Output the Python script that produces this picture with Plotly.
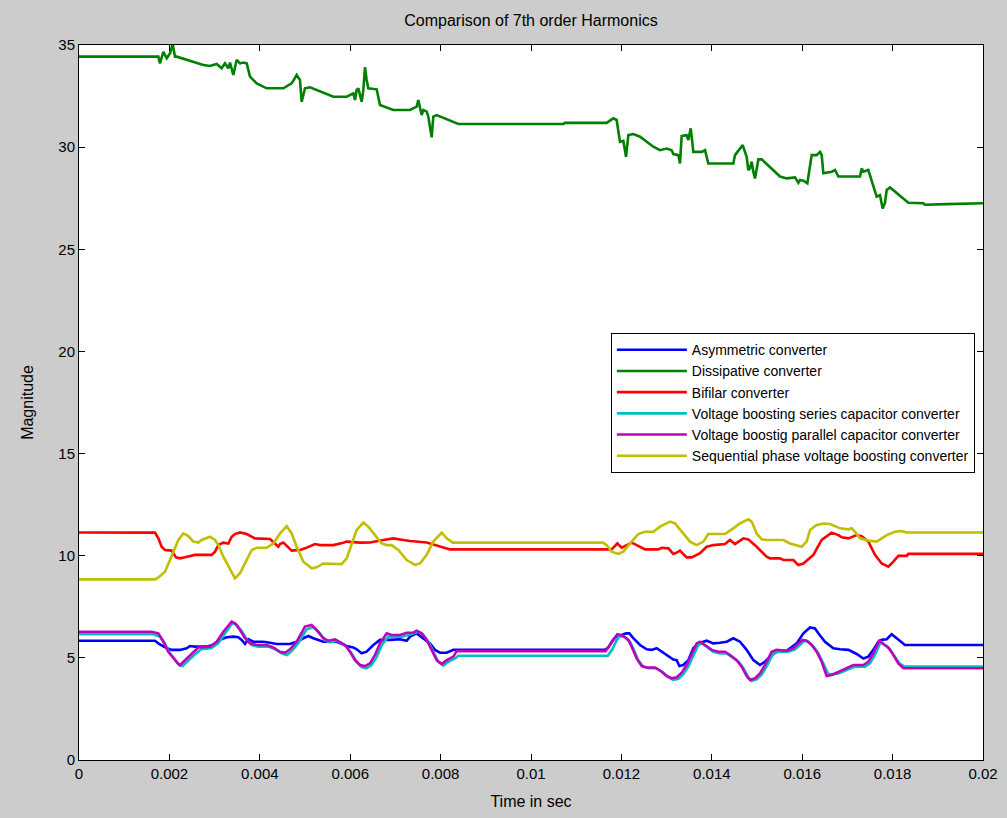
import plotly.graph_objects as go
import numpy as np

# ---------------- data (time in ms, magnitude) ----------------
asym_t = [0,1.681,1.755,1.903,2.05,2.235,2.382,2.456,2.566,2.825,2.972,3.119,3.267,3.414,3.525,3.599,3.673,3.746,3.857,4.078,4.226,4.373,4.668,4.816,4.963,5.074,5.184,5.406,5.701,5.922,6.069,6.143,6.254,6.364,6.512,6.659,6.881,7.102,7.249,7.323,7.47,7.618,7.766,7.876,7.987,8.135,8.282,8.356,
          11.637,11.711,11.822,11.932,12.006,12.102,12.176,12.264,12.412,12.559,12.67,12.78,12.891,13.039,13.149,13.223,13.282,13.37,13.481,13.591,13.702,13.887,14.034,14.181,14.329,14.476,14.624,14.771,14.919,15.066,15.177,15.288,15.435,15.657,15.878,16.026,16.173,16.283,16.357,16.504,16.689,16.836,17.021,17.205,17.353,17.463,17.574,17.684,17.758,17.869,17.98,18.09,18.274,20.0]
asym_v = [5.84,5.84,5.71,5.51,5.39,5.39,5.47,5.58,5.55,5.55,5.63,5.88,6.01,6.04,6.01,5.88,5.68,5.91,5.79,5.79,5.74,5.68,5.68,5.79,5.96,6.07,5.96,5.79,5.79,5.58,5.51,5.42,5.22,5.30,5.63,5.88,5.88,5.91,5.84,6.04,6.20,5.96,5.71,5.39,5.25,5.25,5.39,5.39,
          5.39,5.51,5.91,6.12,6.12,6.20,6.20,5.96,5.63,5.42,5.39,5.47,5.30,5.06,4.92,4.89,4.60,4.65,4.89,5.47,5.71,5.84,5.71,5.74,5.79,5.96,5.79,5.39,4.89,4.65,4.81,5.06,5.30,5.35,5.71,6.20,6.49,6.44,6.20,5.79,5.47,5.42,5.39,5.19,4.97,5.06,5.39,5.79,5.88,5.91,6.16,5.96,5.63,5.63]

diss_t = [0,1.755,1.792,1.866,1.94,2.013,2.072,2.124,2.161,2.751,2.898,3.046,3.156,3.23,3.304,3.341,3.414,3.488,3.562,3.636,3.71,3.783,3.931,4.152,4.52,4.668,4.705,4.816,4.889,4.926,5.0,5.111,5.258,5.627,5.922,6.069,6.106,6.143,6.18,6.254,6.291,6.327,6.364,6.401,6.586,6.659,6.954,7.323,7.47,7.507,7.581,7.618,7.692,7.729,7.802,7.839,7.913,8.392,
          10.715,10.752,11.674,11.822,11.895,11.932,11.969,12.043,12.102,12.153,12.264,12.412,12.706,12.854,13.002,13.112,13.149,13.26,13.296,13.333,13.44,13.481,13.533,13.555,13.591,13.776,13.85,13.923,14.476,14.513,14.683,14.771,14.808,14.845,14.882,14.919,14.956,15.03,15.103,15.509,15.657,15.841,15.915,15.952,16.026,16.114,16.21,16.32,16.394,16.431,16.468,16.652,16.726,16.8,17.279,17.316,17.353,17.463,17.574,17.611,17.648,17.721,17.78,17.832,17.869,17.943,18.348,18.68,18.717,19.196,20.0]
diss_v = [34.43,34.43,34.10,34.67,34.35,34.59,35.05,34.43,34.43,34.02,33.97,34.07,33.86,34.10,33.86,34.14,33.53,34.27,34.10,34.14,34.10,33.45,33.12,32.88,32.88,33.04,33.12,33.53,33.29,32.22,32.88,32.93,32.80,32.47,32.47,32.63,32.31,32.80,32.88,32.22,32.80,33.91,33.29,32.88,32.83,32.06,31.82,31.82,31.98,32.31,31.57,31.82,31.74,31.49,30.48,31.49,31.57,31.13,
          31.13,31.19,31.19,31.41,31.33,30.84,30.26,30.31,29.53,30.59,30.64,30.51,30.02,29.85,29.93,29.85,29.66,29.61,29.20,30.54,30.59,30.35,30.92,30.51,29.77,29.77,29.85,29.20,29.20,29.61,30.10,29.53,28.88,28.96,29.29,28.80,28.47,29.40,29.40,28.56,28.47,28.52,28.26,28.39,28.36,28.23,29.61,29.61,29.77,29.61,28.72,28.80,28.88,28.56,28.56,28.96,28.80,28.88,28.07,27.90,27.57,27.65,27.00,27.28,27.90,28.03,27.28,27.25,27.18,27.21,27.25]

bif_t = [0,1.644,1.681,1.755,1.829,1.903,2.05,2.146,2.235,2.345,2.456,2.566,2.935,3.009,3.083,3.193,3.304,3.378,3.451,3.562,3.71,3.894,4.226,4.373,4.41,4.447,4.521,4.705,4.889,5.0,5.111,5.221,5.332,5.627,5.848,5.922,6.217,6.438,6.733,6.881,6.954,7.176,7.323,7.692,7.913,8.135,8.208,
         11.785,11.91,12.006,12.117,12.227,12.338,12.522,12.817,12.891,13.039,13.149,13.223,13.296,13.444,13.555,13.739,13.887,14.034,14.292,14.403,14.513,14.698,14.808,14.993,15.214,15.288,15.509,15.583,15.804,15.915,16.026,16.247,16.431,16.652,16.8,16.873,17.021,17.205,17.316,17.463,17.611,17.758,17.906,18.017,18.127,18.312,18.348,20.0]
bif_v = [11.14,11.14,11.13,10.85,10.44,10.28,10.25,9.92,9.87,9.92,9.99,10.04,10.04,10.20,10.52,10.64,10.60,10.93,11.06,11.14,11.06,10.85,10.82,10.52,10.44,10.57,10.64,10.25,10.28,10.36,10.48,10.57,10.52,10.52,10.64,10.69,10.64,10.65,10.77,10.80,10.85,10.77,10.72,10.65,10.52,10.36,10.31,
         10.31,10.60,10.39,10.52,10.64,10.52,10.31,10.31,10.39,10.36,10.09,10.15,10.25,9.92,9.92,10.12,10.44,10.52,10.57,10.77,10.57,10.85,10.80,10.44,9.95,9.87,9.87,9.79,9.79,9.54,9.62,10.04,10.77,11.13,11.01,10.90,10.85,11.01,10.96,10.69,10.04,9.62,9.46,9.71,9.99,9.99,10.09,10.09]

ser_t = [0,1.64,1.79,1.90,2.01,2.12,2.23,2.29,2.40,2.55,2.70,2.92,3.08,3.23,3.34,3.41,3.49,3.60,3.71,3.82,3.97,4.19,4.34,4.48,4.60,4.71,4.85,4.96,5.04,5.18,5.30,5.44,5.55,5.70,5.81,5.92,6.03,6.14,6.25,6.36,6.47,6.59,6.70,6.84,6.95,7.14,7.29,7.43,7.51,7.62,7.73,7.84,7.95,8.06,8.17,8.32,8.39,
         11.70,11.80,11.89,11.96,12.08,12.19,12.26,12.37,12.48,12.60,12.78,12.93,13.04,13.15,13.26,13.37,13.48,13.59,13.70,13.78,13.89,14.03,14.18,14.33,14.44,14.59,14.70,14.81,14.88,14.99,15.10,15.21,15.36,15.47,15.69,15.84,15.95,16.05,16.14,16.25,16.36,16.47,16.58,16.69,16.80,16.98,17.17,17.39,17.50,17.61,17.74,17.83,17.94,18.05,18.16,18.27,20.0]
ser_v = [6.16,6.16,6.05,5.71,5.22,4.89,4.62,4.60,4.84,5.14,5.42,5.47,5.71,6.20,6.55,6.70,6.62,6.30,5.91,5.63,5.55,5.55,5.42,5.22,5.14,5.34,5.71,6.12,6.40,6.50,6.28,5.88,5.76,5.84,5.71,5.55,5.22,4.81,4.55,4.49,4.65,5.06,5.63,6.04,6.04,6.04,6.12,6.20,6.28,6.12,5.79,5.30,4.81,4.62,4.81,4.97,5.10,
         5.10,5.42,5.84,6.07,6.01,5.79,5.47,4.89,4.57,4.49,4.49,4.27,4.05,3.92,3.97,4.20,4.57,5.14,5.63,5.71,5.55,5.30,5.22,5.22,5.06,4.81,4.49,4.05,3.87,3.95,4.16,4.57,5.22,5.30,5.30,5.42,5.63,5.84,5.79,5.55,5.22,4.73,4.20,4.20,4.24,4.40,4.57,4.57,4.73,5.14,5.79,5.63,5.42,5.06,4.70,4.57,4.57]

par_t = [0,1.608,1.755,1.866,1.976,2.087,2.198,2.235,2.345,2.493,2.64,2.898,3.046,3.193,3.304,3.378,3.451,3.562,3.673,3.783,3.931,4.152,4.299,4.447,4.558,4.668,4.816,4.926,5.0,5.147,5.258,5.406,5.516,5.664,5.774,5.885,5.996,6.106,6.217,6.327,6.438,6.549,6.659,6.807,6.918,7.102,7.249,7.397,7.47,7.581,7.692,7.802,7.913,8.024,8.135,8.282,8.356,
         11.65,11.748,11.836,11.91,12.043,12.153,12.227,12.338,12.449,12.559,12.743,12.891,13.002,13.112,13.223,13.333,13.444,13.555,13.665,13.739,13.85,13.997,14.145,14.292,14.403,14.55,14.661,14.771,14.845,14.956,15.066,15.177,15.324,15.435,15.657,15.804,15.915,16.011,16.099,16.21,16.32,16.431,16.541,16.652,16.763,16.947,17.132,17.353,17.463,17.574,17.707,17.795,17.906,18.017,18.127,18.238,20.0]
par_v = [6.28,6.28,6.20,5.79,5.30,4.97,4.70,4.65,4.89,5.22,5.51,5.55,5.79,6.28,6.61,6.77,6.69,6.36,5.96,5.71,5.63,5.63,5.51,5.30,5.25,5.42,5.79,6.23,6.53,6.61,6.36,5.96,5.84,5.91,5.79,5.63,5.30,4.89,4.65,4.60,4.73,5.14,5.71,6.20,6.12,6.12,6.23,6.23,6.33,6.20,5.88,5.39,4.89,4.70,4.89,5.06,5.33,
         5.33,5.63,5.96,6.16,6.07,5.88,5.55,4.97,4.60,4.53,4.53,4.32,4.11,4.00,4.05,4.27,4.65,5.22,5.71,5.79,5.63,5.39,5.30,5.30,5.14,4.89,4.57,4.11,3.92,4.00,4.24,4.65,5.30,5.39,5.35,5.47,5.71,5.88,5.84,5.63,5.30,4.81,4.11,4.16,4.27,4.44,4.65,4.65,4.81,5.22,5.84,5.68,5.51,5.14,4.73,4.49,4.49]

seq_t = [0,1.681,1.755,1.903,2.013,2.124,2.198,2.308,2.419,2.529,2.64,2.714,2.898,3.009,3.083,3.193,3.341,3.451,3.562,3.71,3.82,3.931,4.152,4.299,4.447,4.594,4.705,4.816,4.963,5.147,5.258,5.406,5.627,5.811,5.922,6.032,6.143,6.291,6.401,6.549,6.696,6.807,6.918,7.065,7.249,7.434,7.544,7.692,7.839,8.024,8.135,8.267,
         11.6,11.674,11.785,11.932,12.043,12.19,12.375,12.522,12.706,12.854,13.075,13.186,13.37,13.518,13.665,13.813,13.923,14.292,14.476,14.624,14.808,14.882,14.993,15.103,15.214,15.583,15.73,15.878,15.988,16.099,16.173,16.32,16.468,16.615,16.836,17.021,17.094,17.168,17.279,17.463,17.648,17.869,18.053,18.201,18.312,20.0]
seq_v = [8.84,8.84,8.94,9.22,9.79,10.36,10.77,11.09,10.96,10.69,10.64,10.77,10.93,10.77,10.52,9.95,9.30,8.89,9.14,9.79,10.28,10.39,10.39,10.60,11.09,11.45,11.09,10.44,9.71,9.38,9.43,9.62,9.62,9.59,9.87,10.52,11.26,11.62,11.42,11.01,10.60,10.52,10.52,10.28,9.79,9.55,9.62,10.04,10.69,11.13,10.85,10.64,
         10.64,10.52,10.20,10.09,10.20,10.60,11.06,11.17,11.17,11.42,11.67,11.58,11.09,10.69,10.52,10.69,11.06,11.06,11.34,11.58,11.78,11.67,11.09,10.80,10.77,10.77,10.60,10.52,10.44,10.69,11.26,11.50,11.58,11.55,11.34,11.29,11.34,11.17,10.85,10.74,10.69,11.01,11.17,11.21,11.14,11.14]

series = [
    ("Asymmetric converter", asym_t, asym_v, "#0000ff"),
    ("Dissipative converter", diss_t, diss_v, "#008000"),
    ("Bifilar converter", bif_t, bif_v, "#ff0000"),
    ("Voltage boosting series capacitor converter", ser_t, ser_v, "#00bfbf"),
    ("Voltage boostig parallel capacitor converter", par_t, par_v, "#bf00bf"),
    ("Sequential phase voltage boosting converter", seq_t, seq_v, "#bfbf00"),
]

x_ticks = [0, 0.002, 0.004, 0.006, 0.008, 0.01, 0.012, 0.014, 0.016, 0.018, 0.02]
x_tick_text = ["0", "0.002", "0.004", "0.006", "0.008", "0.01", "0.012", "0.014", "0.016", "0.018", "0.02"]
y_ticks = [0, 5, 10, 15, 20, 25, 30, 35]

FONT = "Liberation Sans, Arial, sans-serif"

fig = go.Figure()
for name, t, v, col in series:
    fig.add_trace(go.Scatter(
        x=np.array(t) / 1000.0, y=v, mode="lines", name=name,
        line=dict(color=col, width=2.6),
    ))

axis_common = dict(
    showline=True, linecolor="black", linewidth=1, mirror="allticks",
    ticks="inside", ticklen=6, tickcolor="black", showgrid=False, zeroline=False,
    tickfont=dict(family=FONT, size=15, color="black"), automargin=False,
)

fig.update_layout(
    width=1007, height=818,
    paper_bgcolor="#cccccc", plot_bgcolor="white",
    margin=dict(l=79, r=24, t=45, b=58),
    font=dict(family=FONT, color="black"),
    title=dict(text="Comparison of 7th order Harmonics", x=0.5, xref="paper", xanchor="center",
               y=1 - 20 / 818, yref="container", yanchor="middle",
               font=dict(family=FONT, size=16, color="black")),
    xaxis=dict(range=[0, 0.02], tickvals=x_ticks, ticktext=x_tick_text,
               title=dict(text="Time in sec", font=dict(family=FONT, size=16), standoff=14),
               **axis_common),
    yaxis=dict(range=[0, 35], tickvals=y_ticks,
               title=dict(text="Magnitude", font=dict(family=FONT, size=16), standoff=20),
               **axis_common),
    legend=dict(x=0.991, y=0.597, xanchor="right", yanchor="top",
                bgcolor="white", bordercolor="black", borderwidth=1,
                font=dict(family=FONT, size=14, color="black"),
                tracegroupgap=0, itemwidth=70),
    showlegend=True,
)

fig.write_html("out.html", config={"displayModeBar": False},
               post_script="document.body.style.margin='0';document.body.style.overflow='hidden';")
